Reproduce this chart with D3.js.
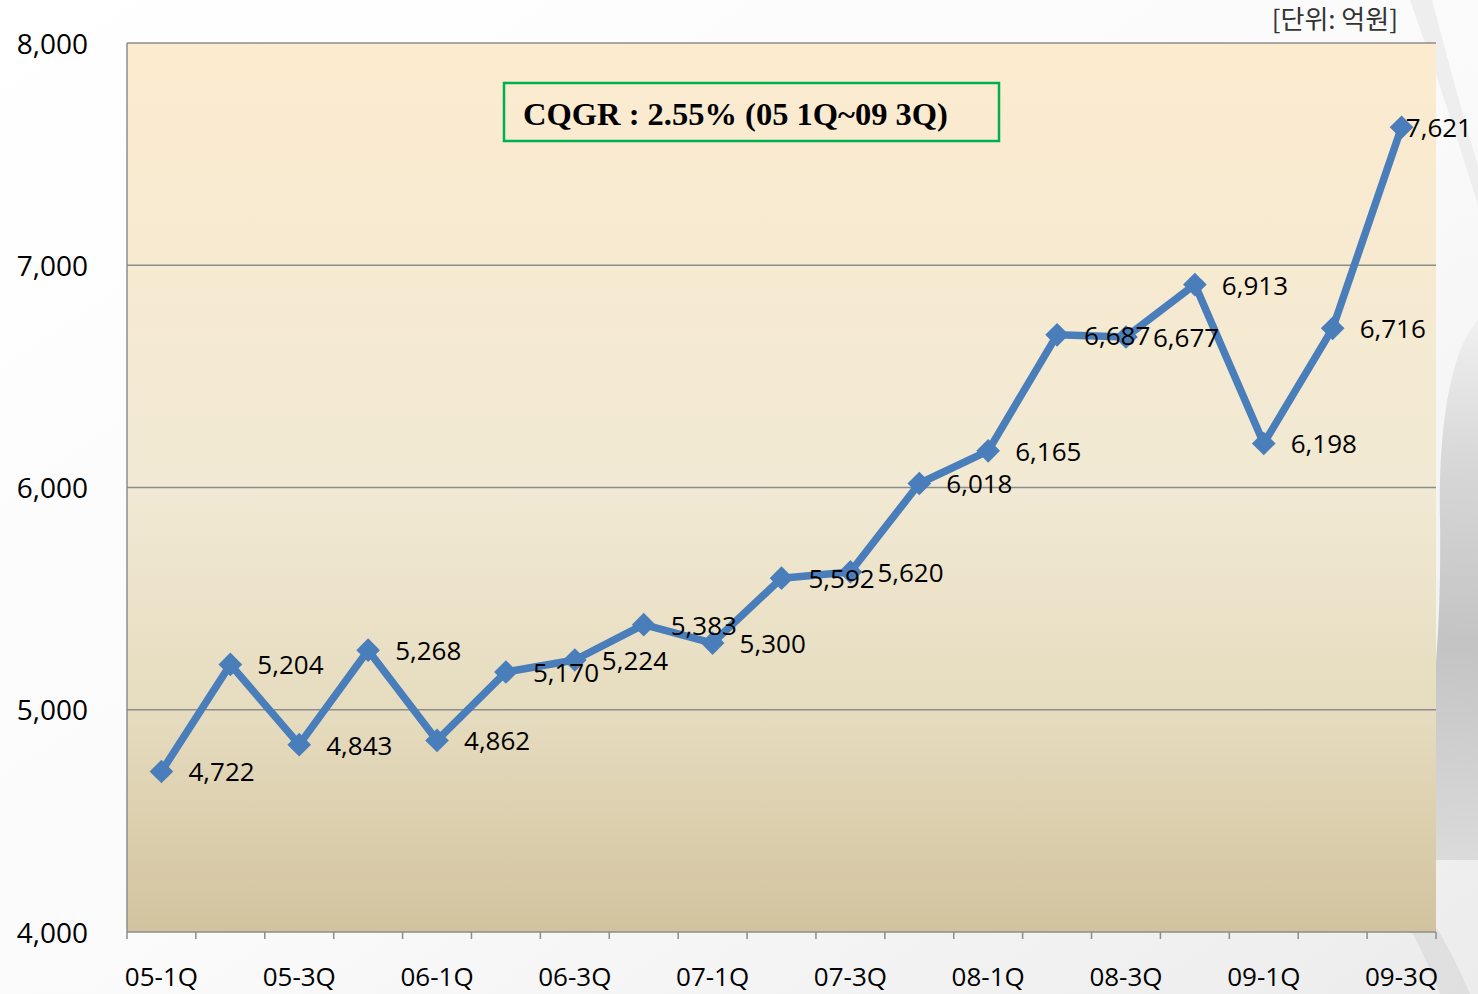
<!DOCTYPE html>
<html>
<head>
<meta charset="utf-8">
<script src="https://cdn.jsdelivr.net/npm/d3@7"></script>
<style>
  html, body { margin: 0; padding: 0; background: #ffffff; }
  svg { display: block; }
</style>
</head>
<body>
<svg id="chart" width="1478" height="994"></svg>
<script>
// ---- data ----
const categories = ["05-1Q","05-2Q","05-3Q","05-4Q","06-1Q","06-2Q","06-3Q","06-4Q","07-1Q","07-2Q","07-3Q","07-4Q","08-1Q","08-2Q","08-3Q","08-4Q","09-1Q","09-2Q","09-3Q"];
const values = [4722, 5204, 4843, 5268, 4862, 5170, 5224, 5383, 5300, 5592, 5620, 6018, 6165, 6687, 6677, 6913, 6198, 6716, 7621];
const yTicks = [4000, 5000, 6000, 7000, 8000];
const xTickLabels = ["05-1Q","05-3Q","06-1Q","06-3Q","07-1Q","07-3Q","08-1Q","08-3Q","09-1Q","09-3Q"];
const unitLabel = "[단위: 억원]";
const noteText = "CQGR : 2.55% (05 1Q~09 3Q)";

// ---- layout ----
const W = 1478, H = 994;
const plot = { left: 127, right: 1436, top: 43, bottom: 932 };
const svg = d3.select("#chart");
const defs = svg.append("defs");

// background gradients
const bg = defs.append("linearGradient").attr("id", "bgGrad").attr("x1", 0).attr("y1", 0).attr("x2", 1).attr("y2", 1);
bg.append("stop").attr("offset", "0%").attr("stop-color", "#ffffff");
bg.append("stop").attr("offset", "55%").attr("stop-color", "#fafafa");
bg.append("stop").attr("offset", "100%").attr("stop-color", "#ececec");

const sw = defs.append("linearGradient").attr("id", "swGrad").attr("x1", 0).attr("y1", 0).attr("x2", 0).attr("y2", 1);
sw.append("stop").attr("offset", "0%").attr("stop-color", "#eeeeee");
sw.append("stop").attr("offset", "25%").attr("stop-color", "#cfcfcf");
sw.append("stop").attr("offset", "60%").attr("stop-color", "#b4b4b4");
sw.append("stop").attr("offset", "100%").attr("stop-color", "#d4d4d4");

const pg = defs.append("linearGradient").attr("id", "plotGrad").attr("x1", 0).attr("y1", 0).attr("x2", 0).attr("y2", 1);
pg.append("stop").attr("offset", "0%").attr("stop-color", "#fcebcf");
pg.append("stop").attr("offset", "50%").attr("stop-color", "#f1e9d3");
pg.append("stop").attr("offset", "75%").attr("stop-color", "#e6dcbf");
pg.append("stop").attr("offset", "100%").attr("stop-color", "#d2c39f");

svg.append("rect").attr("width", W).attr("height", H).attr("fill", "url(#bgGrad)");

// decorative swoosh on the right edge
const deco = svg.append("g").attr("class", "deco");
deco.append("path")
  .attr("d", "M1478,320 C1450,350 1438,430 1440,520 C1442,650 1430,770 1400,860 L1478,860 Z")
  .attr("fill", "url(#swGrad)").attr("opacity", 0.75);
deco.append("path")
  .attr("d", "M1395,870 C1425,905 1452,950 1470,994 L1440,994 C1425,955 1405,915 1380,880 Z")
  .attr("fill", "#dadada").attr("opacity", 0.7);
deco.append("path")
  .attr("d", "M1410,0 L1432,0 C1448,60 1464,120 1478,165 L1478,205 C1458,140 1435,70 1410,0 Z")
  .attr("fill", "#ececec").attr("opacity", 0.9);

// ---- scales ----
const x = d3.scaleBand().domain(categories).range([plot.left, plot.right]).padding(0);
const y = d3.scaleLinear().domain([4000, 8000]).range([plot.bottom, plot.top]);

// plot area
svg.append("rect")
  .attr("x", plot.left).attr("y", plot.top)
  .attr("width", plot.right - plot.left).attr("height", plot.bottom - plot.top)
  .attr("fill", "url(#plotGrad)");

// gridlines
svg.append("g").selectAll("line").data(yTicks.filter(d => d > 4000)).join("line")
  .attr("x1", plot.left).attr("x2", plot.right)
  .attr("y1", d => y(d)).attr("y2", d => y(d))
  .attr("stroke", "#8c8c8c").attr("stroke-width", 1.3);

// y axis
const yAxis = svg.append("g")
  .attr("transform", `translate(${plot.left},0)`)
  .call(d3.axisLeft(y).tickValues(yTicks).tickSize(0).tickPadding(39).tickFormat(d3.format(",")));
yAxis.select(".domain").remove();
yAxis.selectAll("text")
  .attr("font-family", "'Open Sans', sans-serif").attr("font-size", 28).attr("fill", "#000")
  .attr("dy", "0.36em");
svg.append("line")
  .attr("x1", plot.left).attr("x2", plot.left).attr("y1", plot.top).attr("y2", plot.bottom)
  .attr("stroke", "#8c8c8c").attr("stroke-width", 1.5);

// x axis
svg.append("line")
  .attr("x1", plot.left).attr("x2", plot.right).attr("y1", plot.bottom).attr("y2", plot.bottom)
  .attr("stroke", "#8c8c8c").attr("stroke-width", 1.5);
const boundaries = categories.map(c => x(c)).concat([x.range()[1]]);
svg.append("g").selectAll("line").data(boundaries).join("line")
  .attr("x1", d => d).attr("x2", d => d)
  .attr("y1", plot.bottom).attr("y2", plot.bottom + 7)
  .attr("stroke", "#8c8c8c").attr("stroke-width", 1.5);
const xAxis = svg.append("g")
  .attr("transform", `translate(0,${plot.bottom})`)
  .call(d3.axisBottom(x).tickValues(xTickLabels).tickSize(0).tickPadding(0));
xAxis.select(".domain").remove();
xAxis.selectAll("text")
  .attr("font-family", "'Open Sans', sans-serif").attr("font-size", 26).attr("fill", "#000")
  .attr("y", 54).attr("dy", 0);

// line
const cx = d => x(d.c) + x.bandwidth() / 2;
const pts = categories.map((c, i) => ({ c, v: values[i] }));
svg.append("path")
  .datum(pts)
  .attr("d", d3.line().x(cx).y(d => y(d.v)))
  .attr("fill", "none").attr("stroke", "#4a7ebb").attr("stroke-width", 7.5)
  .attr("stroke-linejoin", "round");

// markers
svg.append("g").selectAll("path").data(pts).join("path")
  .attr("d", d3.symbol(d3.symbolSquare, 280))
  .attr("transform", d => `translate(${cx(d)},${y(d.v)}) rotate(45)`)
  .attr("fill", "#4a7ebb");

// data labels (kept inside the picture, as the original does for the last one)
const labels = svg.append("g").selectAll("text").data(pts).join("text")
  .attr("x", d => cx(d) + 27)
  .attr("y", d => y(d.v) + 3)
  .attr("dominant-baseline", "middle")
  .attr("font-family", "'Open Sans', sans-serif").attr("font-size", 26).attr("fill", "#000")
  .text(d => d3.format(",")(d.v));
labels.each(function() {
  const bb = this.getBBox();
  const maxX = W - 6 - bb.width;
  if (bb.x > maxX) d3.select(this).attr("x", maxX);
});

// note box
svg.append("rect")
  .attr("x", 504).attr("y", 83).attr("width", 495).attr("height", 58)
  .attr("fill", "none").attr("stroke", "#00b050").attr("stroke-width", 2.5);
svg.append("text")
  .attr("x", 523).attr("y", 125)
  .attr("font-family", "'Liberation Serif', serif").attr("font-weight", "bold")
  .attr("font-size", 32.5).attr("fill", "#000")
  .text(noteText);

// unit label
svg.append("text")
  .attr("x", 1398).attr("y", 29).attr("text-anchor", "end")
  .attr("font-family", "'Noto Sans CJK KR', sans-serif").attr("font-size", 26).attr("fill", "#333")
  .text(unitLabel);
</script>
</body>
</html>
